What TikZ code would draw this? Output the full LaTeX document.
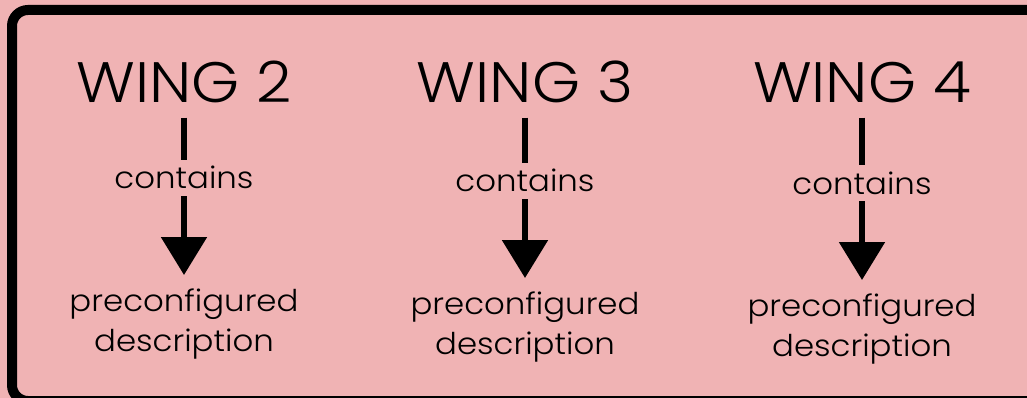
\documentclass[tikz,border=0pt]{standalone}
\usepackage{fontspec}
\setmainfont{Poppins}[UprightFont={* Light}, FakeStretch=1.08]
\definecolor{wingpink}{RGB}{240, 179, 180}
\usetikzlibrary{arrows.meta, positioning}

\begin{document}
\begin{tikzpicture}[x=1pt, y=-1pt,
		wingtitle/.style={inner sep=0pt, anchor=base, font=\fontsize{57}{60}\selectfont},
		wingverb/.style={inner sep=0pt, anchor=base, font=\fontsize{30}{32}\selectfont},
		wingdesc/.style={inner sep=0pt, anchor=north, align=center, font=\fontsize{30}{40}\selectfont},
		wingline/.style={line width=5.5pt}]
	\useasboundingbox (0,0) rectangle (1027,398);
	\clip (0,0) rectangle (1027,398);
	\fill[wingpink] (0,0) rectangle (1027,398);
	\draw[line width=10pt, rounded corners=16pt] (12,10) rectangle (1060,401);
	\foreach \x/\n/\dy in {184/2/0, 525/3/3, 862/4/5}{
		\node[wingtitle] (wing\n) at (\x,103) {WING \n};
		\node[wingverb] (verb\n) at (\x,189+\dy) {contains};
		\node[wingdesc] (desc\n) at (\x,289+\dy) {preconfigured\\description};
		\draw[wingline, shorten <=14pt, shorten >=6pt] (wing\n.south) -- (verb\n.north);
		\draw[wingline, shorten <=7pt, shorten >=14pt, -{Triangle[width=45pt, length=38pt]}] (verb\n.south) -- (desc\n.north);
	}
\end{tikzpicture}
\end{document}
